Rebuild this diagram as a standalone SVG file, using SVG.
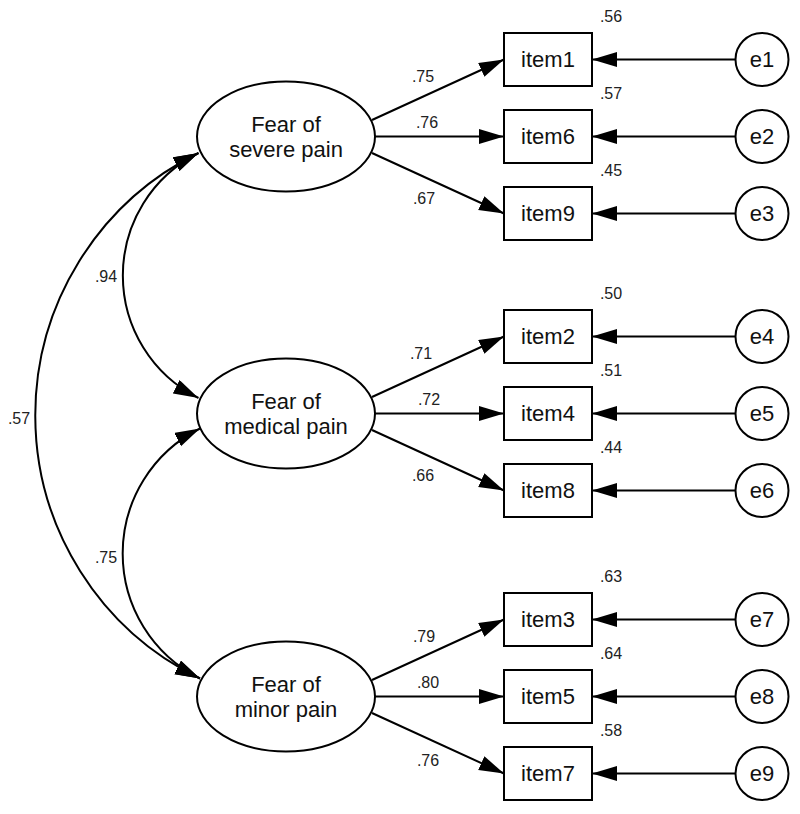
<svg xmlns="http://www.w3.org/2000/svg" width="800" height="814" viewBox="0 0 800 814">
<style>
  .shape { fill: #fff; stroke: #000; stroke-width: 2; }
  .conn { fill: none; stroke: #000; stroke-width: 2; marker-end: url(#ah); }
  .cov { fill: none; stroke: #000; stroke-width: 2; marker-end: url(#ah); marker-start: url(#ahs); }
  .node { font-family: "Liberation Sans", Arial, sans-serif; font-size: 22px; fill: #111; text-anchor: middle; }
  .lbl { font-family: "Liberation Sans", Arial, sans-serif; font-size: 16px; fill: #222; text-anchor: middle; }
</style>
<defs>
  <marker id="ah" markerUnits="userSpaceOnUse" markerWidth="26" markerHeight="16" viewBox="0 0 26 16" refX="25" refY="7.5" orient="auto">
    <path d="M0,0 L25,7.5 L0,15 z" fill="#000"/>
  </marker>
  <marker id="ahs" markerUnits="userSpaceOnUse" markerWidth="26" markerHeight="16" viewBox="0 0 26 16" refX="25" refY="7.5" orient="auto-start-reverse">
    <path d="M0,0 L25,7.5 L0,15 z" fill="#000"/>
  </marker>
</defs>
<rect width="800" height="814" fill="#fff"/>

<g id="connectors">
  <!-- covariances -->
  <path class="cov" d="M198.5,153 A137,137 0 0 0 198.5,398"/>
  <path class="cov" d="M200,428.5 A139.7,139.7 0 0 0 200,678.5"/>
  <path class="cov" d="M198.5,153 A292.5,292.5 0 0 0 200,678.5"/>
  <text class="lbl" x="106" y="282">.94</text>
  <text class="lbl" x="106" y="563">.75</text>
  <text class="lbl" x="19" y="424">.57</text>

  <!-- loadings group 1 -->
  <path class="conn" d="M372,120 L504,59.5"/>
  <path class="conn" d="M375,136.5 L504,136.5"/>
  <path class="conn" d="M372,153 L504,213.5"/>
  <text class="lbl" x="423" y="82">.75</text>
  <text class="lbl" x="427" y="128">.76</text>
  <text class="lbl" x="424" y="204">.67</text>

  <!-- loadings group 2 -->
  <path class="conn" d="M372,397 L504,336.5"/>
  <path class="conn" d="M375,413.5 L504,413.5"/>
  <path class="conn" d="M372,430 L504,490.5"/>
  <text class="lbl" x="421" y="359">.71</text>
  <text class="lbl" x="429" y="405">.72</text>
  <text class="lbl" x="423" y="481">.66</text>

  <!-- loadings group 3 -->
  <path class="conn" d="M372,680 L504,619.5"/>
  <path class="conn" d="M375,696.5 L504,696.5"/>
  <path class="conn" d="M372,713 L504,773.5"/>
  <text class="lbl" x="424" y="642">.79</text>
  <text class="lbl" x="428" y="688">.80</text>
  <text class="lbl" x="428" y="766">.76</text>

  <!-- errors to items -->
  <path class="conn" d="M735,59.5 L592,59.5"/>
  <path class="conn" d="M735,136.5 L592,136.5"/>
  <path class="conn" d="M735,213.5 L592,213.5"/>
  <path class="conn" d="M735,336.5 L592,336.5"/>
  <path class="conn" d="M735,413.5 L592,413.5"/>
  <path class="conn" d="M735,490.5 L592,490.5"/>
  <path class="conn" d="M735,619.5 L592,619.5"/>
  <path class="conn" d="M735,696.5 L592,696.5"/>
  <path class="conn" d="M735,773.5 L592,773.5"/>
</g>

<!-- latent factors -->
<g id="severe">
  <ellipse class="shape" cx="286" cy="136.5" rx="89" ry="55"/>
  <text class="node" x="286" y="131.5">Fear of</text>
  <text class="node" x="286" y="156.5">severe pain</text>
</g>
<g id="medical">
  <ellipse class="shape" cx="286" cy="413.5" rx="89" ry="55"/>
  <text class="node" x="286" y="408.5">Fear of</text>
  <text class="node" x="286" y="433.5">medical pain</text>
</g>
<g id="minor">
  <ellipse class="shape" cx="286" cy="696.5" rx="89" ry="55"/>
  <text class="node" x="286" y="691.5">Fear of</text>
  <text class="node" x="286" y="716.5">minor pain</text>
</g>

<!-- observed items -->
<g id="item1"><rect class="shape" x="504" y="33" width="88" height="53"/><text class="node" x="548" y="67">item1</text><text class="lbl" x="611" y="22">.56</text></g>
<g id="item6"><rect class="shape" x="504" y="110" width="88" height="53"/><text class="node" x="548" y="144">item6</text><text class="lbl" x="611" y="99">.57</text></g>
<g id="item9"><rect class="shape" x="504" y="187" width="88" height="53"/><text class="node" x="548" y="221">item9</text><text class="lbl" x="611" y="176">.45</text></g>
<g id="item2"><rect class="shape" x="504" y="310" width="88" height="53"/><text class="node" x="548" y="344">item2</text><text class="lbl" x="611" y="299">.50</text></g>
<g id="item4"><rect class="shape" x="504" y="387" width="88" height="53"/><text class="node" x="548" y="421">item4</text><text class="lbl" x="611" y="376">.51</text></g>
<g id="item8"><rect class="shape" x="504" y="464" width="88" height="53"/><text class="node" x="548" y="498">item8</text><text class="lbl" x="611" y="453">.44</text></g>
<g id="item3"><rect class="shape" x="504" y="593" width="88" height="53"/><text class="node" x="548" y="627">item3</text><text class="lbl" x="611" y="582">.63</text></g>
<g id="item5"><rect class="shape" x="504" y="670" width="88" height="53"/><text class="node" x="548" y="704">item5</text><text class="lbl" x="611" y="659">.64</text></g>
<g id="item7"><rect class="shape" x="504" y="747" width="88" height="53"/><text class="node" x="548" y="781">item7</text><text class="lbl" x="611" y="736">.58</text></g>

<!-- error terms -->
<g id="e1"><circle class="shape" cx="762" cy="59.5" r="26.5"/><text class="node" x="762" y="67">e1</text></g>
<g id="e2"><circle class="shape" cx="762" cy="136.5" r="26.5"/><text class="node" x="762" y="144">e2</text></g>
<g id="e3"><circle class="shape" cx="762" cy="213.5" r="26.5"/><text class="node" x="762" y="221">e3</text></g>
<g id="e4"><circle class="shape" cx="762" cy="336.5" r="26.5"/><text class="node" x="762" y="344">e4</text></g>
<g id="e5"><circle class="shape" cx="762" cy="413.5" r="26.5"/><text class="node" x="762" y="421">e5</text></g>
<g id="e6"><circle class="shape" cx="762" cy="490.5" r="26.5"/><text class="node" x="762" y="498">e6</text></g>
<g id="e7"><circle class="shape" cx="762" cy="619.5" r="26.5"/><text class="node" x="762" y="627">e7</text></g>
<g id="e8"><circle class="shape" cx="762" cy="696.5" r="26.5"/><text class="node" x="762" y="704">e8</text></g>
<g id="e9"><circle class="shape" cx="762" cy="773.5" r="26.5"/><text class="node" x="762" y="781">e9</text></g>
</svg>
